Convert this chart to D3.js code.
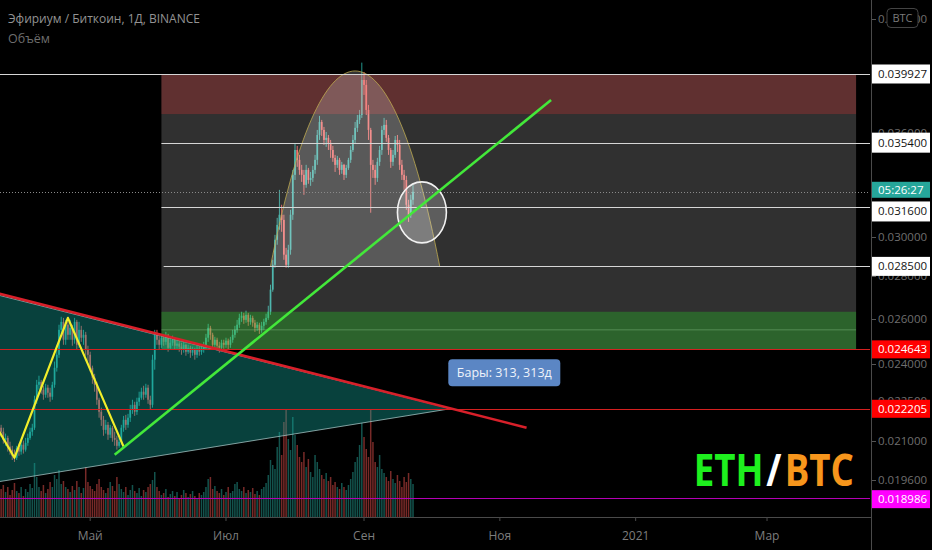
<!DOCTYPE html>
<html>
<head>
<meta charset="utf-8">
<script src="https://cdn.jsdelivr.net/npm/d3@7"></script>
<style>
html, body { margin: 0; padding: 0; background: #000; overflow: hidden; }
svg { display: block; }
text { font-family: "Open Sans", "DejaVu Sans", sans-serif; }
</style>
</head>
<body>
<div id="chart"></div>
<script>
// ETH/BTC daily candles, Binance
const firstDay = "2020-03-22";
const firstOpen = 0.02148;
const closes = [
  0.02133, 0.02103, 0.02110, 0.02078, 0.02067, 0.02045, 0.02038, 0.02074, 0.02060, 0.02085,
  0.02067, 0.02092, 0.02110, 0.02133, 0.02148, 0.02256, 0.02316, 0.02328, 0.02296, 0.02276,
  0.02304, 0.02284, 0.02268, 0.02316, 0.02386, 0.02441, 0.02550, 0.02586, 0.02506, 0.02573,
  0.02528, 0.02559, 0.02506, 0.02586, 0.02484, 0.02550, 0.02515, 0.02528, 0.02463, 0.02441,
  0.02386, 0.02345, 0.02316, 0.02256, 0.02209, 0.02178, 0.02140, 0.02159, 0.02122, 0.02148,
  0.02110, 0.02103, 0.02081, 0.02096, 0.02148, 0.02178, 0.02159, 0.02186, 0.02217, 0.02236,
  0.02209, 0.02248, 0.02264, 0.02288, 0.02276, 0.02304, 0.02256, 0.02236, 0.02420, 0.02528,
  0.02506, 0.02484, 0.02515, 0.02497, 0.02524, 0.02471, 0.02493, 0.02506, 0.02480, 0.02489,
  0.02476, 0.02463, 0.02484, 0.02454, 0.02471, 0.02450, 0.02463, 0.02441, 0.02467, 0.02454,
  0.02463, 0.02480, 0.02515, 0.02559, 0.02528, 0.02484, 0.02506, 0.02480, 0.02471, 0.02493,
  0.02484, 0.02502, 0.02484, 0.02506, 0.02528, 0.02550, 0.02573, 0.02604, 0.02614, 0.02595,
  0.02618, 0.02586, 0.02604, 0.02582, 0.02559, 0.02573, 0.02550, 0.02568, 0.02586, 0.02604,
  0.02632, 0.02736, 0.02858, 0.02986, 0.03065, 0.03120, 0.03092, 0.02909, 0.02858, 0.02934,
  0.03120, 0.03346, 0.03495, 0.03435, 0.03375, 0.03346, 0.03288, 0.03375, 0.03316, 0.03328,
  0.03375, 0.03435, 0.03588, 0.03671, 0.03620, 0.03557, 0.03570, 0.03539, 0.03495, 0.03447,
  0.03405, 0.03435, 0.03375, 0.03405, 0.03346, 0.03387, 0.03435, 0.03495, 0.03557, 0.03633,
  0.03684, 0.03716, 0.03951, 0.03917, 0.03749, 0.03620, 0.03405, 0.03375, 0.03328, 0.03423,
  0.03495, 0.03620, 0.03652, 0.03570, 0.03495, 0.03423, 0.03465, 0.03557, 0.03526, 0.03405,
  0.03346, 0.03316, 0.03175, 0.03120, 0.03203, 0.03248
];
const highs = [
  0.02159, 0.02148, 0.02126, 0.02118, 0.02096, 0.02081, 0.02067, 0.02081, 0.02089, 0.02103,
  0.02100, 0.02110, 0.02126, 0.02148, 0.02163, 0.02272, 0.02336, 0.02353, 0.02336, 0.02312,
  0.02320, 0.02316, 0.02304, 0.02328, 0.02412, 0.02463, 0.02573, 0.02609, 0.02604, 0.02595,
  0.02586, 0.02595, 0.02573, 0.02604, 0.02595, 0.02586, 0.02568, 0.02550, 0.02541, 0.02480,
  0.02454, 0.02395, 0.02361, 0.02328, 0.02264, 0.02225, 0.02193, 0.02178, 0.02170, 0.02159,
  0.02155, 0.02133, 0.02118, 0.02110, 0.02159, 0.02193, 0.02197, 0.02201, 0.02236, 0.02256,
  0.02248, 0.02264, 0.02288, 0.02304, 0.02312, 0.02320, 0.02316, 0.02272, 0.02441, 0.02550,
  0.02550, 0.02524, 0.02532, 0.02528, 0.02541, 0.02532, 0.02515, 0.02524, 0.02515, 0.02506,
  0.02502, 0.02493, 0.02502, 0.02489, 0.02484, 0.02480, 0.02476, 0.02471, 0.02480, 0.02484,
  0.02480, 0.02497, 0.02532, 0.02577, 0.02568, 0.02537, 0.02519, 0.02515, 0.02497, 0.02506,
  0.02506, 0.02515, 0.02511, 0.02519, 0.02550, 0.02568, 0.02595, 0.02623, 0.02632, 0.02627,
  0.02637, 0.02627, 0.02618, 0.02614, 0.02595, 0.02586, 0.02582, 0.02586, 0.02600, 0.02623,
  0.02660, 0.02760, 0.02883, 0.03012, 0.03103, 0.03259, 0.03175, 0.03120, 0.02944, 0.02960,
  0.03147, 0.03375, 0.03532, 0.03520, 0.03465, 0.03405, 0.03375, 0.03405, 0.03387, 0.03363,
  0.03399, 0.03465, 0.03620, 0.03710, 0.03684, 0.03639, 0.03607, 0.03588, 0.03557, 0.03520,
  0.03465, 0.03459, 0.03447, 0.03423, 0.03411, 0.03405, 0.03447, 0.03520, 0.03588, 0.03671,
  0.03716, 0.03749, 0.04073, 0.04007, 0.03951, 0.03782, 0.03633, 0.03435, 0.03405, 0.03447,
  0.03520, 0.03646, 0.03697, 0.03684, 0.03588, 0.03507, 0.03495, 0.03582, 0.03588, 0.03557,
  0.03435, 0.03375, 0.03340, 0.03203, 0.03231, 0.03288
];
const lows = [
  0.02114, 0.02089, 0.02081, 0.02060, 0.02049, 0.02030, 0.02023, 0.02030, 0.02045, 0.02049,
  0.02053, 0.02060, 0.02081, 0.02103, 0.02118, 0.02140, 0.02240, 0.02296, 0.02280, 0.02256,
  0.02264, 0.02264, 0.02248, 0.02256, 0.02304, 0.02370, 0.02428, 0.02532, 0.02484, 0.02484,
  0.02506, 0.02506, 0.02480, 0.02489, 0.02463, 0.02471, 0.02497, 0.02484, 0.02437, 0.02412,
  0.02370, 0.02320, 0.02288, 0.02236, 0.02186, 0.02155, 0.02118, 0.02126, 0.02103, 0.02110,
  0.02096, 0.02081, 0.02067, 0.02074, 0.02085, 0.02133, 0.02140, 0.02148, 0.02170, 0.02201,
  0.02193, 0.02197, 0.02232, 0.02256, 0.02256, 0.02264, 0.02240, 0.02217, 0.02225, 0.02378,
  0.02484, 0.02463, 0.02471, 0.02480, 0.02484, 0.02454, 0.02463, 0.02480, 0.02463, 0.02467,
  0.02454, 0.02441, 0.02450, 0.02437, 0.02445, 0.02428, 0.02437, 0.02420, 0.02428, 0.02437,
  0.02441, 0.02450, 0.02463, 0.02497, 0.02506, 0.02471, 0.02463, 0.02467, 0.02450, 0.02463,
  0.02467, 0.02471, 0.02463, 0.02471, 0.02493, 0.02515, 0.02537, 0.02559, 0.02586, 0.02577,
  0.02582, 0.02568, 0.02573, 0.02564, 0.02541, 0.02546, 0.02532, 0.02537, 0.02550, 0.02573,
  0.02595, 0.02618, 0.02726, 0.02843, 0.02960, 0.03039, 0.03028, 0.02883, 0.02843, 0.02843,
  0.02909, 0.03092, 0.03316, 0.03393, 0.03346, 0.03305, 0.03231, 0.03271, 0.03294, 0.03282,
  0.03305, 0.03352, 0.03405, 0.03557, 0.03582, 0.03526, 0.03514, 0.03495, 0.03447, 0.03423,
  0.03363, 0.03387, 0.03346, 0.03352, 0.03316, 0.03328, 0.03375, 0.03417, 0.03483, 0.03532,
  0.03607, 0.03658, 0.03697, 0.03849, 0.03716, 0.03557, 0.03131, 0.03328, 0.03288, 0.03305,
  0.03399, 0.03465, 0.03588, 0.03545, 0.03465, 0.03387, 0.03399, 0.03447, 0.03483, 0.03375,
  0.03316, 0.03259, 0.03147, 0.03081, 0.03103, 0.03175
];
// volume, thousands ETH (approx.)
const volumes = [
  28, 32, 25, 30, 22, 27, 34, 26, 24, 30, 21, 28, 25, 33, 29, 54,
  40, 30, 26, 32, 24, 28, 35, 30, 42, 38, 47, 33, 36, 30, 28,
  25, 31, 27, 36, 30, 24, 29, 50, 35, 31, 28, 26, 33, 38, 30,
  27, 24, 29, 35, 31, 26, 40, 33, 28, 25, 30, 22, 27, 32, 26,
  24, 29, 21, 27, 25, 30, 33, 37, 45, 30, 26, 22, 24, 28, 20,
  23, 26, 21, 25, 19, 22, 27, 24, 20, 23, 26, 21, 18, 24, 22,
  25, 30, 38, 40, 28, 31, 26, 24, 28, 22, 25, 30, 24, 26, 33,
  35, 28, 26, 30, 24, 27, 25, 29, 23, 26, 22, 28, 30, 34, 42,
  57, 52, 48, 70, 85, 62, 95, 107, 78, 67, 100, 82, 72, 60, 55,
  65, 50, 58, 45, 40, 62, 55, 48, 42, 38, 44, 36, 40, 32, 35,
  30, 28, 34, 30, 27, 32, 38, 45, 55, 60, 72, 94, 80, 68, 60,
  107, 75, 55, 50, 62, 48, 44, 40, 36, 46, 38, 34, 42, 36, 30, 40, 35, 44, 38, 33
];

// axes
const priceTicks = [0.044, 0.036, 0.030, 0.028, 0.026, 0.024, 0.0225, 0.021, 0.0196];
const monthTicks = ["2020-05-01", "2020-07-01", "2020-09-01", "2020-11-01", "2021-01-01", "2021-03-01"];
const monthLabels = ["Май", "Июл", "Сен", "Ноя", "2021", "Мар"];

// drawings (time / price anchors)
const whiteLevels = [0.039927, 0.0354, 0.0316, 0.0285];
const whiteLevelFrom = ["2020-03-20", "2020-06-02", "2020-06-02", "2020-06-03"];
const redLevels = [0.024643, 0.022205];
const pinkLevel = 0.018986;
const zoneDates = ["2020-06-02", "2021-04-10"];
const zoneGrey = [0.039927, 0.024643];
const zoneRed = [0.039927, 0.03722];
const zoneGreen = [0.02632, 0.024643];
const zoneGreenMid = 0.0255;
const triDates = ["2020-03-20", "2020-10-10", "2020-03-20"];
const triPrices = [0.02712, 0.02221, 0.01953];
const redLineDates = ["2020-03-20", "2020-11-13"];
const redLinePrices = [0.02720, 0.02148];
const zigDates = ["2020-03-20", "2020-03-28", "2020-04-21", "2020-05-16"];
const zigPrices = [0.02150, 0.02038, 0.02604, 0.02078];
const greenLineDates = ["2020-05-12", "2020-11-24"];
const greenLinePrices = [0.02049, 0.03815];
const arcDates = ["2020-07-21", "2020-08-28", "2020-10-05"];
const arcPrices = [0.0285, 0.04014, 0.0285];
const circleDates = ["2020-09-16", "2020-10-08"];
const circlePrices = [0.03305, 0.02970];
const barsLabelAt = ["2020-11-03", 0.02365];
const logoAt = ["2021-04-09", 0.01940];

const W = 932, H = 550, plotRight = 870, timeAxisY = 517;
const parseDay = d3.utcParse("%Y-%m-%d");

const x = d3.scaleUtc()
    .domain([new Date(Date.UTC(2020, 2, 21, 12)), new Date(Date.UTC(2021, 3, 16, 6))])
    .range([0, plotRight]);
const y = d3.scaleLog().domain([0.039927, 0.0196]).range([74, 480]);
const yVol = d3.scaleLinear().domain([0, 110]).range([timeAxisY, 407]);

const start = parseDay(firstDay);
const candles = closes.map((c, i) => {
    const open = i === 0 ? firstOpen : closes[i - 1];
    return {
        date: d3.utcDay.offset(start, i),
        open, close: c,
        high: Math.max(highs[i], open, c),
        low: Math.min(lows[i], open, c),
        volume: volumes[i]
    };
});

const svg = d3.select('#chart').append('svg')
    .attr('width', W).attr('height', H);
svg.append('rect').attr('width', W).attr('height', H).attr('fill', '#000');

svg.append('clipPath').attr('id', 'plot-clip')
    .append('rect').attr('x', 0).attr('y', 0).attr('width', plotRight).attr('height', timeAxisY);
const plot = svg.append('g').attr('clip-path', 'url(#plot-clip)');

// volume
plot.append('g').selectAll('rect')
    .data(candles)
    .enter()
    .append('rect')
    .attr('x', d => x(d.date) - 0.75)
    .attr('width', 1.5)
    .attr('y', d => yVol(d.volume))
    .attr('height', d => timeAxisY - yVol(d.volume))
    .attr('fill', d => d.close >= d.open ? 'rgba(38,166,154,0.5)' : 'rgba(239,83,80,0.5)');

// candles
const candleG = plot.append('g');
candleG.selectAll('line')
    .data(candles)
    .enter()
    .append('line')
    .attr('x1', d => x(d.date)).attr('x2', d => x(d.date))
    .attr('y1', d => y(d.high)).attr('y2', d => y(d.low))
    .attr('stroke', d => d.close >= d.open ? '#26a69a' : '#ef5350')
    .attr('stroke-width', 0.9);
candleG.selectAll('rect')
    .data(candles)
    .enter()
    .append('rect')
    .attr('x', d => x(d.date) - 0.85)
    .attr('width', 1.7)
    .attr('y', d => y(Math.max(d.open, d.close)))
    .attr('height', d => Math.max(1, Math.abs(y(d.open) - y(d.close))))
    .attr('fill', d => d.close >= d.open ? '#26a69a' : '#ef5350');

// price zones
const zx0 = x(parseDay(zoneDates[0])), zx1 = x(parseDay(zoneDates[1]));
const zone = (p, fill) => plot.append('rect')
    .attr('x', zx0).attr('width', zx1 - zx0)
    .attr('y', y(p[0])).attr('height', y(p[1]) - y(p[0]))
    .attr('fill', fill);
zone(zoneGrey, 'rgba(255,255,255,0.19)');
zone(zoneRed, 'rgba(235,50,50,0.26)');
zone(zoneGreen, 'rgba(40,190,40,0.36)');
plot.append('line')
    .attr('x1', zx0).attr('x2', zx1)
    .attr('y1', y(zoneGreenMid)).attr('y2', y(zoneGreenMid))
    .attr('stroke', 'rgba(160,220,160,0.35)').attr('stroke-width', 1);

// triangle
const pt = (d, p) => [x(parseDay(d)), y(p)];
plot.append('path')
    .attr('d', d3.line()(triDates.map((d, i) => pt(d, triPrices[i]))) + 'Z')
    .attr('fill', 'rgba(20,170,160,0.38)')
    .attr('stroke', 'rgba(170,200,200,0.75)')
    .attr('stroke-width', 1);

// arc through both feet and the top (a little fuller than a parabola)
const a0 = pt(arcDates[0], arcPrices[0]), a1 = pt(arcDates[1], arcPrices[1]), a2 = pt(arcDates[2], arcPrices[2]);
const kx = 0.6;
const cy = (8 * a1[1] - a0[1] - a2[1]) / 6;   // keeps the curve's top on a1
const arcPath = d3.path();
arcPath.moveTo(a0[0], a0[1]);
arcPath.bezierCurveTo(
    a0[0] + (a1[0] - a0[0]) * kx, cy,
    a2[0] - (a2[0] - a1[0]) * kx, cy,
    a2[0], a2[1]);
plot.append('path')
    .attr('d', arcPath.toString())
    .attr('fill', 'rgba(255,255,255,0.2)')
    .attr('stroke', 'rgba(190,170,80,0.8)')
    .attr('stroke-width', 1);

// horizontal levels
whiteLevels.forEach((p, i) => {
    plot.append('line')
        .attr('x1', x(parseDay(whiteLevelFrom[i]))).attr('x2', plotRight)
        .attr('y1', Math.round(y(p)) + 0.5).attr('y2', Math.round(y(p)) + 0.5)
        .attr('stroke', '#d6d6d6').attr('stroke-width', 1);
});
redLevels.forEach(p => {
    plot.append('line')
        .attr('x1', 0).attr('x2', plotRight)
        .attr('y1', Math.round(y(p)) + 0.5).attr('y2', Math.round(y(p)) + 0.5)
        .attr('stroke', '#d42020').attr('stroke-width', 1.2);
});
plot.append('line')
    .attr('x1', 0).attr('x2', plotRight)
    .attr('y1', Math.round(y(pinkLevel)) + 0.5).attr('y2', Math.round(y(pinkLevel)) + 0.5)
    .attr('stroke', '#b400b4').attr('stroke-width', 1);

// current price
const last = candles[candles.length - 1];
plot.append('line')
    .attr('x1', 0).attr('x2', plotRight)
    .attr('y1', Math.round(y(last.close)) + 0.5).attr('y2', Math.round(y(last.close)) + 0.5)
    .attr('stroke', '#8a8a8a').attr('stroke-width', 1).attr('stroke-dasharray', '1,2');

// ellipse
const c0 = pt(circleDates[0], circlePrices[0]), c1 = pt(circleDates[1], circlePrices[1]);
plot.append('ellipse')
    .attr('cx', (c0[0] + c1[0]) / 2).attr('cy', (c0[1] + c1[1]) / 2)
    .attr('rx', (c1[0] - c0[0]) / 2).attr('ry', (c1[1] - c0[1]) / 2)
    .attr('fill', 'rgba(255,255,255,0.22)')
    .attr('stroke', '#f2f2f2').attr('stroke-width', 1.6);

// trend lines
const trend = (dates, prices, color, w) => plot.append('path')
    .attr('d', d3.line()(dates.map((d, i) => pt(d, prices[i]))))
    .attr('fill', 'none').attr('stroke', color).attr('stroke-width', w)
    .attr('stroke-linejoin', 'round');
trend(redLineDates, redLinePrices, '#d8202a', 2.6);
trend(zigDates, zigPrices, '#f2ee2a', 2.2);
trend(greenLineDates, greenLinePrices, '#43e83a', 2.6);

// bars-range label
const bl = pt(barsLabelAt[0], barsLabelAt[1]);
plot.append('rect')
    .attr('x', bl[0] - 56).attr('y', bl[1] - 13.5)
    .attr('width', 112).attr('height', 27).attr('rx', 4)
    .attr('fill', '#5b86c4');
plot.append('text')
    .attr('x', bl[0]).attr('y', bl[1] + 4.5)
    .attr('text-anchor', 'middle')
    .attr('fill', '#eef3fb').attr('font-size', 12.5)
    .text('Бары: 313, 313д');

// ETH/BTC logo text (right edge anchored at logoAt)
const lg = pt(logoAt[0], logoAt[1]);
const logo = plot.append('text')
    .attr('x', lg[0] - 160).attr('y', lg[1])
    .attr('font-family', '"Liberation Sans Narrow", "DejaVu Sans Condensed", sans-serif')
    .attr('font-size', 44).attr('font-weight', 'bold')
    .attr('textLength', 160).attr('lengthAdjust', 'spacingAndGlyphs');
logo.append('tspan').attr('fill', '#1ef01e').text('ETH');
logo.append('tspan').attr('fill', '#ffffff').attr('dx', 3).text('/');
logo.append('tspan').attr('fill', '#f7961c').attr('dx', 4).text('BTC');

// time axis
svg.append('line')
    .attr('x1', 0).attr('x2', plotRight + 1)
    .attr('y1', timeAxisY + 0.5).attr('y2', timeAxisY + 0.5)
    .attr('stroke', '#4a4a4a');
monthTicks.forEach((d, i) => {
    const tx = x(parseDay(d));
    svg.append('line')
        .attr('x1', tx).attr('x2', tx).attr('y1', timeAxisY).attr('y2', timeAxisY + 4)
        .attr('stroke', '#4a4a4a');
    svg.append('text')
        .attr('x', tx).attr('y', 540)
        .attr('text-anchor', 'middle')
        .attr('fill', '#7d7d7d').attr('font-size', 12)
        .text(monthLabels[i]);
});

// price axis
svg.append('line')
    .attr('x1', plotRight + 1.5).attr('x2', plotRight + 1.5)
    .attr('y1', 0).attr('y2', H)
    .attr('stroke', '#4a4a4a');
const fmt = d3.format('.6f');
priceTicks.forEach(p => {
    svg.append('line')
        .attr('x1', plotRight + 2).attr('x2', plotRight + 6)
        .attr('y1', Math.round(y(p)) + 0.5).attr('y2', Math.round(y(p)) + 0.5)
        .attr('stroke', '#555');
    svg.append('text')
        .attr('x', plotRight + 8).attr('y', y(p) + 4)
        .attr('fill', '#6f6f6f').attr('font-size', 11.5)
        .text(fmt(p));
});

const axisLabel = (p, dy, h, bg, fg, label) => {
    const ly = y(p) + dy;
    svg.append('rect')
        .attr('x', plotRight + 2).attr('y', ly - h / 2)
        .attr('width', 58).attr('height', h)
        .attr('fill', bg);
    svg.append('text')
        .attr('x', plotRight + 8).attr('y', ly + 4)
        .attr('fill', fg).attr('font-size', 11.5)
        .text(label);
};
axisLabel(whiteLevels[0], 0, 19, '#ffffff', '#131313', fmt(whiteLevels[0]));
axisLabel(whiteLevels[1], 0, 20, '#ffffff', '#131313', fmt(whiteLevels[1]));
axisLabel(last.close, -2, 16, '#26a69a', '#ffffff', '05:26:27');
axisLabel(whiteLevels[2], 4, 20, '#ffffff', '#131313', fmt(whiteLevels[2]));
axisLabel(whiteLevels[3], 0, 19, '#ffffff', '#131313', fmt(whiteLevels[3]));
axisLabel(redLevels[0], 0, 18, '#ff0000', '#ffffff', fmt(redLevels[0]));
axisLabel(redLevels[1], 0, 18, '#ff0000', '#ffffff', fmt(redLevels[1]));
axisLabel(pinkLevel, 1, 18, '#ff00ff', '#ffffff', fmt(pinkLevel));

// currency badge
svg.append('rect')
    .attr('x', 887).attr('y', 8.5).attr('width', 31).attr('height', 19).attr('rx', 4)
    .attr('fill', '#000').attr('stroke', '#444');
svg.append('text')
    .attr('x', 902.5).attr('y', 22).attr('text-anchor', 'middle')
    .attr('fill', '#7a7a7a').attr('font-size', 11)
    .text('BTC');

// legend
svg.append('text')
    .attr('x', 8).attr('y', 23)
    .attr('font-family', '"Liberation Sans", Arial, sans-serif')
    .attr('fill', '#939393').attr('font-size', 12)
    .text('Эфириум / Биткоин, 1Д, BINANCE');
svg.append('text')
    .attr('x', 8).attr('y', 43)
    .attr('font-family', '"Liberation Sans", Arial, sans-serif')
    .attr('fill', '#6e6e6e').attr('font-size', 12.5)
    .text('Объём');
</script>
</body>
</html>
